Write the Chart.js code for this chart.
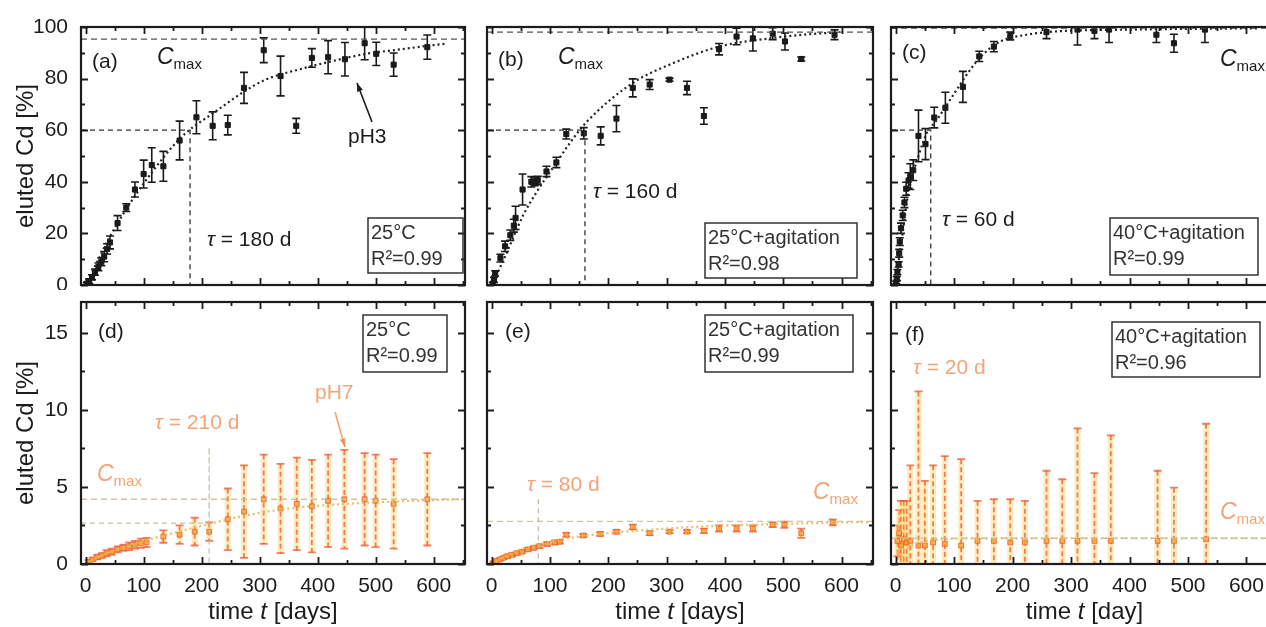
<!DOCTYPE html>
<html>
<head>
<title>Eluted Cd vs time</title>
<script src="https://cdn.jsdelivr.net/npm/chart.js"></script>
<style>
  html, body { margin: 0; padding: 0; background: #fff; overflow: hidden; }
  body { width: 1266px; height: 627px; position: relative; }
  .panel { position: absolute; }
</style>
</head>
<body>
<div class="panel" style="left:0;top:0;width:470px;height:290px"><canvas id="pa"></canvas></div>
<div class="panel" style="left:470px;top:0;width:410px;height:290px"><canvas id="pb"></canvas></div>
<div class="panel" style="left:880px;top:0;width:410px;height:290px"><canvas id="pc"></canvas></div>
<div class="panel" style="left:0;top:290px;width:470px;height:337px"><canvas id="pd"></canvas></div>
<div class="panel" style="left:470px;top:290px;width:410px;height:337px"><canvas id="pe"></canvas></div>
<div class="panel" style="left:880px;top:290px;width:410px;height:337px"><canvas id="pf"></canvas></div>

<script>
// ---- data ----
// x axis (days), shared
const xMin = -8, xMax = 654;
const xTickLabels = [0, 100, 200, 300, 400, 500, 600];

// (a) 25°C
const aDays = [2, 6, 11, 16, 22, 27, 32, 37, 42, 55, 70, 85, 100, 114, 134, 162, 191, 219, 245, 273, 307, 336, 363, 390, 418, 447, 481, 501, 531, 589];
const aCd   = [0.5, 1.5, 3, 5, 7, 9, 11, 14, 16.5, 24, 30, 37, 43, 46.5, 46, 56, 65, 61.7, 62, 76.4, 91, 81, 61.7, 88, 88.3, 87.5, 93.7, 89.6, 85.4, 92.2];
const aErr  = [0.5, 0.8, 1, 1.2, 1.5, 1.5, 2, 2, 2.5, 2.9, 1.5, 2.9, 5.4, 6.7, 5.8, 7.5, 6.4, 5.4, 3.8, 6, 4.8, 7.7, 2.9, 3.6, 6.4, 6.5, 6.4, 4.5, 4.5, 4.7];
const aFitDays = [0, 20, 40, 82, 151, 173, 225, 270, 310, 367, 424, 481, 538, 600, 620];
const aFitCd   = [0, 9, 18, 33.5, 54, 59, 67.4, 74.5, 79.6, 83.5, 86.7, 89.5, 91.2, 93, 93.5];
const aCmax = 95.3, aTau = 180, aTauLevel = 60;

// (b) 25°C + agitation
const bDays = [2, 4, 6, 15, 23, 32, 38, 41, 53, 68, 74, 79, 94, 111, 128, 158, 187, 214, 242, 271, 305, 335, 364, 390, 420, 448, 482, 503, 531, 588];
const bCd   = [0.5, 2, 4.5, 10.4, 15, 19.3, 23, 26, 37, 40, 40, 40.6, 44, 47.5, 58.5, 58.8, 57.8, 64.5, 76.4, 77.7, 79.6, 76.4, 65.5, 91.4, 96.3, 95.6, 97.4, 94.4, 87.6, 97];
const bErr  = [0.5, 1, 1, 1.5, 2, 2, 2.5, 4.5, 6, 2, 1.5, 1.5, 2, 2, 1.9, 2.2, 3.5, 5.1, 3.5, 1.9, 0.6, 2.6, 3.2, 2.2, 3.2, 4.9, 2.3, 3.3, 0.8, 1.9];
const bFitDays = [0, 19, 54, 77, 111, 134, 162, 242, 305, 390, 477, 534, 597];
const bFitCd   = [0, 9, 27, 36, 47.4, 55, 63, 78.3, 85.4, 92.4, 95.6, 97, 98];
const bCmax = 98, bTau = 160, bTauLevel = 60;

// (c) 40°C + agitation
const cDays = [1, 2, 3, 5, 6, 7, 9, 12, 15, 18, 22, 25, 30, 39, 51, 66, 85, 115, 143, 168, 196, 258, 311, 340, 365, 446, 476, 529];
const cCd   = [1, 2.5, 5, 8, 12.3, 16.8, 22, 27, 32, 37.3, 40.5, 42, 44.5, 57.8, 54.6, 64.9, 68.7, 76.8, 88.6, 92.4, 96.5, 98, 99, 98.5, 99, 97, 93.7, 99];
const cErr  = [0.5, 0.8, 1, 1, 1.5, 1.5, 2, 2, 2, 2.5, 3, 5, 4, 10, 6, 4, 6, 6, 2, 2, 1.5, 2.5, 6, 3, 5, 3, 3.5, 5];
const cFitDays = [0, 5, 10, 21, 41, 55, 67, 101, 123, 146, 179, 224, 269, 404, 620];
const cFitCd   = [0, 9, 17, 34.7, 51.4, 59.7, 63, 74.5, 82, 88.6, 94.4, 97, 98.2, 99, 99.5];
const cCmax = 99.6, cTau = 60, cTauLevel = 60;

// (d) 25°C, pH7
const dDays = [5, 12, 20, 28, 36, 45, 55, 65, 75, 85, 95, 105, 134, 162, 188, 213, 245, 273, 307, 336, 364, 390, 418, 446, 481, 500, 531, 589];
const dCd   = [0.15, 0.3, 0.45, 0.55, 0.7, 0.8, 0.95, 1.05, 1.15, 1.25, 1.35, 1.4, 1.78, 1.9, 2.1, 2.1, 2.9, 3.4, 4.2, 3.6, 3.9, 3.75, 4.1, 4.2, 4.2, 4.1, 3.9, 4.2];
const dErr  = [0.1, 0.1, 0.15, 0.15, 0.2, 0.2, 0.2, 0.2, 0.25, 0.25, 0.3, 0.3, 0.4, 0.6, 0.9, 0.6, 2, 3, 2.9, 2.9, 3, 3, 3, 3.2, 3, 3, 2.9, 3];
const dFitDays = [0, 25, 50, 100, 150, 213, 270, 350, 450, 600, 650];
const dFitCd   = [0, 0.5, 0.9, 1.5, 2.0, 2.6, 3.1, 3.6, 3.9, 4.15, 4.2];
const dCmax = 4.2, dTau = 213, dTauLevel = 2.65, dTauTop = 7.6;

// (e) 25°C + agitation
const eDays = [3, 8, 14, 20, 27, 35, 43, 52, 62, 72, 82, 95, 108, 117, 128, 157, 186, 214, 242, 271, 305, 335, 364, 390, 420, 448, 482, 502, 531, 585];
const eCd   = [0.1, 0.2, 0.3, 0.4, 0.5, 0.6, 0.7, 0.8, 0.95, 1.05, 1.15, 1.3, 1.4, 1.45, 1.9, 1.85, 1.95, 2.1, 2.4, 2.0, 2.1, 2.1, 2.15, 2.3, 2.3, 2.3, 2.55, 2.55, 2.0, 2.7];
const eErr  = [0.05, 0.05, 0.08, 0.08, 0.1, 0.1, 0.1, 0.1, 0.1, 0.1, 0.12, 0.12, 0.12, 0.12, 0.12, 0.1, 0.12, 0.12, 0.15, 0.12, 0.1, 0.1, 0.15, 0.2, 0.2, 0.2, 0.15, 0.2, 0.3, 0.2];
const eFitDays = [0, 20, 50, 85, 120, 200, 300, 400, 500, 600, 650];
const eFitCd   = [0, 0.45, 0.95, 1.3, 1.6, 2.0, 2.3, 2.5, 2.6, 2.7, 2.72];
const eCmax = 2.76, eTau = 80, eTauTop = 4.2;

// (f) 40°C + agitation
const fDays = [3, 6, 9, 14, 19, 25, 39, 50, 64, 84, 112, 140, 168, 196, 221, 258, 285, 311, 340, 368, 448, 476, 531];
const fCd   = [1.5, 2.0, 1.2, 1.6, 1.4, 1.5, 1.2, 1.2, 1.4, 1.3, 1.2, 1.5, 1.5, 1.4, 1.4, 1.5, 1.5, 1.5, 1.5, 1.5, 1.5, 1.5, 1.6];
const fErr  = [1.0, 1.5, 2.9, 2.5, 2.7, 4.9, 10.0, 4.2, 5.0, 5.7, 5.6, 2.6, 2.7, 2.8, 2.7, 4.55, 4.0, 7.3, 4.4, 6.85, 4.55, 3.45, 7.5];
const fFitDays = [0, 5, 10, 20, 40, 80, 150, 300, 650];
const fFitCd   = [0, 0.4, 0.7, 1.05, 1.4, 1.6, 1.66, 1.67, 1.67];
const fCmax = 1.67;

// ---- styles ----
const fam = '"Liberation Sans", Arial, Helvetica, sans-serif';
const ink = '#1c1c1c';
const warm = 'rgba(238,125,60,0.7)';
const F = '21px ' + fam;
const FB = '20px ' + fam;
const FI = 'italic 23px ' + fam;
const FT = 'italic 21px ' + fam;
const FS = '15px ' + fam;

function xy(xs, ys) { return xs.map((x, i) => ({ x: x, y: ys[i] })); }

// error bars drawn through the chart scales
const errorBars = {
  id: 'errorBars',
  beforeDatasetsDraw(chart) {
    const { ctx, chartArea: a, scales: { x, y } } = chart;
    ctx.save();
    ctx.beginPath();
    ctx.rect(a.left, a.top, a.right - a.left, a.bottom - a.top);
    ctx.clip();
    chart.data.datasets.forEach(ds => {
      if (!ds.err) return;
      ds.data.forEach((p, i) => {
        const px = x.getPixelForValue(p.x);
        const hi = y.getPixelForValue(p.y + ds.err[i]);
        const lo = y.getPixelForValue(p.y - ds.err[i]);
        if (ds.glow) {
          ctx.strokeStyle = ds.glow;
          ctx.lineWidth = 6;
          ctx.setLineDash([]);
          ctx.beginPath(); ctx.moveTo(px, hi); ctx.lineTo(px, lo); ctx.stroke();
        }
        ctx.strokeStyle = ds.errColor;
        ctx.lineWidth = ds.errWidth;
        ctx.setLineDash(ds.errDash || []);
        ctx.beginPath(); ctx.moveTo(px, hi); ctx.lineTo(px, lo); ctx.stroke();
        ctx.setLineDash([]);
        ctx.beginPath();
        ctx.moveTo(px - 4, hi); ctx.lineTo(px + 4, hi);
        ctx.moveTo(px - 4, lo); ctx.lineTo(px + 4, lo);
        ctx.stroke();
      });
    });
    ctx.restore();
  }
};

// frame with inward ticks on all four sides
const frameTicks = {
  id: 'frameTicks',
  afterDatasetsDraw(chart, args, opts) {
    const { ctx, chartArea: a, scales: { x, y } } = chart;
    ctx.save();
    ctx.strokeStyle = ink;
    ctx.lineWidth = 1.8;
    ctx.beginPath();
    for (let v = 0, k = 0; v <= x.max; v += opts.xStep / 2, k++) {
      const px = Math.round(x.getPixelForValue(v)) + 0.5;
      const len = k % 2 ? 4 : 7;
      ctx.moveTo(px, a.bottom); ctx.lineTo(px, a.bottom - len);
      ctx.moveTo(px, a.top); ctx.lineTo(px, a.top + len);
    }
    for (let v = y.min, k = 0; v <= y.max + 1e-6; v += opts.yStep / 2, k++) {
      const py = Math.round(y.getPixelForValue(v)) + 0.5;
      const len = k % 2 ? 4 : 7;
      ctx.moveTo(a.left, py); ctx.lineTo(a.left + len, py);
      ctx.moveTo(a.right, py); ctx.lineTo(a.right - len, py);
    }
    ctx.stroke();
    ctx.lineWidth = 2.2;
    ctx.strokeRect(a.left, a.top, a.right - a.left, a.bottom - a.top);
    ctx.restore();
  }
};

function drawParts(ctx, x, y, parts, color, center) {
  ctx.fillStyle = color;
  ctx.textBaseline = 'middle';
  ctx.textAlign = 'left';
  let w = 0;
  parts.forEach(p => { ctx.font = p[1]; w += ctx.measureText(p[0]).width; });
  let cx = center ? x - w / 2 : x;
  parts.forEach(p => {
    ctx.font = p[1];
    ctx.fillText(p[0], cx, y + (p[2] || 0));
    cx += ctx.measureText(p[0]).width;
  });
}

function notesPlugin(notes, xTitle) {
  return {
    id: 'notes',
    afterDraw(chart) {
      const { ctx, chartArea: a } = chart;
      ctx.save();
      notes.forEach(n => {
        if (n.t === 'text') drawParts(ctx, n.x, n.y, n.parts, n.color || ink);
        if (n.t === 'box') {
          ctx.strokeStyle = '#333'; ctx.lineWidth = 1.5;
          ctx.strokeRect(n.x, n.y, n.w, n.h);
        }
        if (n.t === 'arrow') {
          const c = n.color || ink;
          ctx.strokeStyle = c; ctx.fillStyle = c; ctx.lineWidth = 1.6;
          ctx.beginPath(); ctx.moveTo(n.x1, n.y1); ctx.lineTo(n.x2, n.y2); ctx.stroke();
          const ang = Math.atan2(n.y2 - n.y1, n.x2 - n.x1);
          ctx.beginPath();
          ctx.moveTo(n.x2, n.y2);
          ctx.lineTo(n.x2 - 9 * Math.cos(ang - 0.35), n.y2 - 9 * Math.sin(ang - 0.35));
          ctx.lineTo(n.x2 - 9 * Math.cos(ang + 0.35), n.y2 - 9 * Math.sin(ang + 0.35));
          ctx.closePath(); ctx.fill();
        }
      });
      if (xTitle) {
        drawParts(ctx, (a.left + a.right) / 2, chart.height - 15,
          [['time ', '24px ' + fam], ['t', 'italic 24px ' + fam], [' ' + xTitle, '24px ' + fam]], ink, true);
      }
      ctx.restore();
    }
  };
}

function cmaxParts(x, y, color) {
  return { t: 'text', x: x, y: y, color: color, parts: [['C', FI], ['max', FS, 7]] };
}
function tauParts(x, y, text, color) {
  return { t: 'text', x: x, y: y, color: color, parts: [['τ', FT], [text, F]] };
}
function boxNote(x, y, w, h, l1, l2) {
  return [
    { t: 'box', x: x, y: y, w: w, h: h },
    { t: 'text', x: x + 3, y: y + 15, color: '#333', parts: [[l1, FB]] },
    { t: 'text', x: x + 3, y: y + 41, color: '#333', parts: [[l2, FB]] }
  ];
}

function build(id, p) {
  const top = p.top;
  const datasets = [];
  // Cmax dashed line across the panel
  datasets.push({ data: [{ x: xMin, y: p.cmax }, { x: xMax, y: p.cmax }], showLine: true, pointRadius: 0,
    borderColor: top ? '#555' : 'rgba(200,190,150,0.9)', borderWidth: 1.3, borderDash: [6, 4] });
  // tau guide
  if (p.tau != null) {
    const pts = [];
    if (p.tauLevel != null) pts.push({ x: xMin, y: p.tauLevel }, { x: p.tau, y: p.tauLevel });
    pts.push({ x: p.tau, y: p.tauTop != null ? p.tauTop : p.tauLevel }, { x: p.tau, y: 0 });
    datasets.push({ data: pts, showLine: true, pointRadius: 0,
      borderColor: top ? '#333' : 'rgba(190,180,150,0.85)', borderWidth: 1.3, borderDash: [5, 4] });
  }
  // fitted curve, dotted
  datasets.push({ data: xy(p.fitX, p.fitY), showLine: true, pointRadius: 0, cubicInterpolationMode: 'monotone',
    borderColor: top ? '#222' : 'rgba(230,185,80,0.9)', borderWidth: 2.2, borderDash: [2, 3] });
  // measured points with error bars
  datasets.push({ data: xy(p.days, p.cd), err: p.err, showLine: false, pointStyle: 'rect',
    pointRadius: top ? 3.6 : 3.4,
    pointBackgroundColor: top ? '#1a1a1a' : 'rgba(246,170,50,0.85)',
    pointBorderColor: top ? '#1a1a1a' : 'rgba(238,90,50,0.8)', pointBorderWidth: 1,
    errColor: top ? '#1a1a1a' : 'rgba(238,85,50,0.75)', errWidth: top ? 1.6 : 1.8,
    errDash: top ? [] : [5, 3], glow: top ? null : 'rgba(250,210,90,0.4)' });

  const yScale = {
    min: 0, max: top ? 100 : 17,
    display: !!p.yLabels,
    ticks: { stepSize: top ? 20 : 5, includeBounds: false, color: ink, font: { family: fam, size: 21 }, padding: 13 },
    grid: { display: false, drawTicks: false },
    border: { display: false },
    title: { display: true, text: 'eluted Cd [%]', color: ink, font: { family: fam, size: 24 }, padding: { top: 12, bottom: 0 } },
    afterFit(s) {
      if (p.yLabels) s.width = 81;
      s.paddingTop = 0; s.paddingBottom = 0;
    }
  };
  const xScale = {
    type: 'linear', min: xMin, max: xMax,
    display: !top,
    ticks: { stepSize: 100, includeBounds: false, autoSkip: false, maxRotation: 0, color: ink,
      font: { family: fam, size: 21 }, padding: 10,
      callback: v => xTickLabels.includes(v) ? String(v) : '' },
    grid: { display: false, drawTicks: false },
    border: { display: false },
    afterFit(s) {
      if (!top) s.height = 63;
      s.paddingLeft = 0; s.paddingRight = 0;
    }
  };

  new Chart(document.getElementById(id), {
    type: 'scatter',
    data: { datasets: datasets },
    options: {
      responsive: true, maintainAspectRatio: false, animation: false,
      layout: { padding: p.pad },
      scales: { x: xScale, y: yScale },
      plugins: { legend: { display: false }, tooltip: { enabled: false },
        frameTicks: { xStep: 100, yStep: top ? 20 : 5 } }
    },
    plugins: [errorBars, frameTicks, notesPlugin(p.notes, p.xTitle)]
  });
}

build('pa', { top: true, yLabels: true, pad: { left: 0, top: 27, right: 2, bottom: 2 },
  days: aDays, cd: aCd, err: aErr, fitX: aFitDays, fitY: aFitCd, cmax: aCmax, tau: aTau, tauLevel: aTauLevel,
  notes: [
    { t: 'text', x: 92, y: 62, parts: [['(a)', F]] },
    cmaxParts(157, 58),
    tauParts(207, 240, ' = 180 d'),
    { t: 'text', x: 348, y: 137, parts: [['pH3', F]] },
    { t: 'arrow', x1: 372, y1: 122, x2: 357, y2: 83 }
  ].concat(boxNote(368, 218, 95, 55, '25°C', 'R²=0.99')) });

build('pb', { top: true, pad: { left: 17, top: 27, right: 7, bottom: 2 },
  days: bDays, cd: bCd, err: bErr, fitX: bFitDays, fitY: bFitCd, cmax: bCmax, tau: bTau, tauLevel: bTauLevel,
  notes: [
    { t: 'text', x: 28, y: 60, parts: [['(b)', F]] },
    cmaxParts(88, 58),
    tauParts(123, 192, ' = 160 d')
  ].concat(boxNote(235, 223, 152, 55, '25°C+agitation', 'R²=0.98')) });

build('pc', { top: true, pad: { left: 11, top: 27, right: 12, bottom: 2 },
  days: cDays, cd: cCd, err: cErr, fitX: cFitDays, fitY: cFitCd, cmax: cCmax, tau: cTau, tauLevel: cTauLevel,
  notes: [
    { t: 'text', x: 22, y: 53, parts: [['(c)', F]] },
    cmaxParts(340, 60),
    tauParts(62, 220, ' = 60 d')
  ].concat(boxNote(230, 218, 148, 57, '40°C+agitation', 'R²=0.99')) });

build('pd', { top: false, yLabels: true, pad: { left: 0, top: 12, right: 2, bottom: 0 }, xTitle: '[days]',
  days: dDays, cd: dCd, err: dErr, fitX: dFitDays, fitY: dFitCd, cmax: dCmax,
  tau: dTau, tauLevel: dTauLevel, tauTop: dTauTop,
  notes: [
    { t: 'text', x: 98, y: 42, parts: [['(d)', F]] },
    cmaxParts(97, 185, warm),
    tauParts(155, 133, ' = 210 d', warm),
    { t: 'text', x: 315, y: 103, color: warm, parts: [['pH7', F]] },
    { t: 'arrow', x1: 335, y1: 122, x2: 345, y2: 157, color: warm }
  ].concat(boxNote(363, 25, 84, 57, '25°C', 'R²=0.99')) });

build('pe', { top: false, pad: { left: 17, top: 12, right: 7, bottom: 0 }, xTitle: '[days]',
  days: eDays, cd: eCd, err: eErr, fitX: eFitDays, fitY: eFitCd, cmax: eCmax, tau: eTau, tauTop: eTauTop,
  notes: [
    { t: 'text', x: 35, y: 42, parts: [['(e)', F]] },
    tauParts(57, 195, ' = 80 d', warm),
    cmaxParts(343, 203, warm)
  ].concat(boxNote(235, 25, 148, 57, '25°C+agitation', 'R²=0.99')) });

build('pf', { top: false, pad: { left: 11, top: 12, right: 12, bottom: 0 }, xTitle: '[day]',
  days: fDays, cd: fCd, err: fErr, fitX: fFitDays, fitY: fFitCd, cmax: fCmax,
  notes: [
    { t: 'text', x: 25, y: 45, parts: [['(f)', F]] },
    tauParts(33, 78, ' = 20 d', warm),
    cmaxParts(340, 223, warm)
  ].concat(boxNote(232, 32, 148, 55, '40°C+agitation', 'R²=0.96')) });
</script>
</body>
</html>
